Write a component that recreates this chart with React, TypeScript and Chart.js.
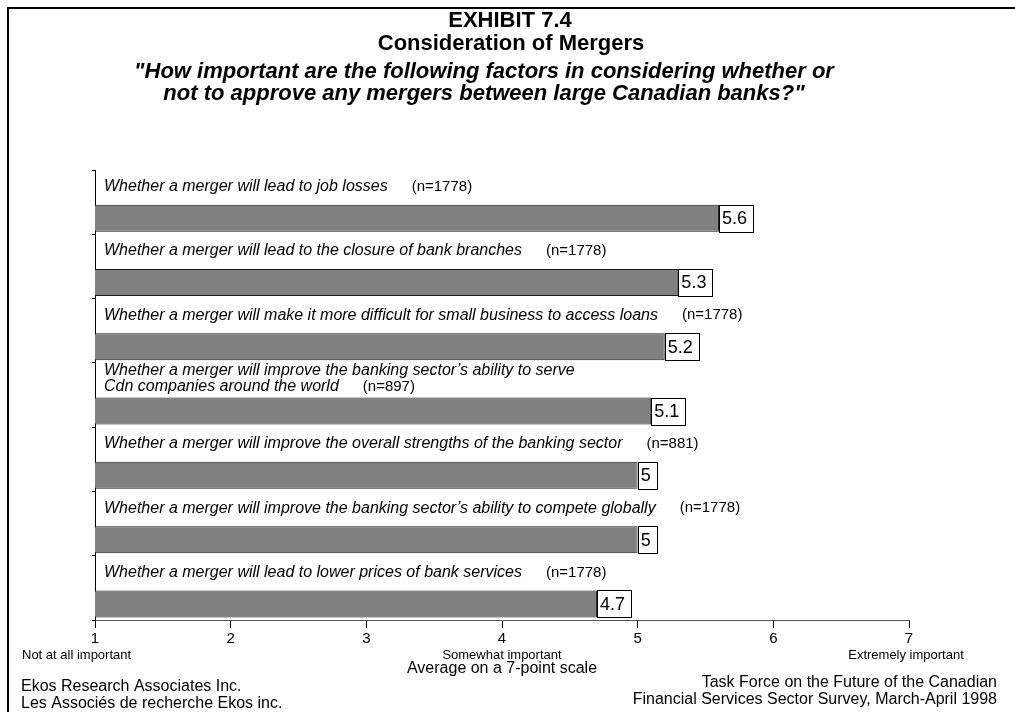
import React, { useEffect, useRef } from 'react';
import { Chart, registerables } from 'chart.js';

Chart.register(...registerables);

const FONT = "'Liberation Sans', Arial, sans-serif";

const categories: string[][] = [
  ['Whether a merger will lead to job losses'],
  ['Whether a merger will lead to the closure of bank branches'],
  ['Whether a merger will make it more difficult for small business to access loans'],
  ['Whether a merger will improve the banking sector\u2019s ability to serve', 'Cdn companies around the world'],
  ['Whether a merger will improve the overall strengths of the banking sector'],
  ['Whether a merger will improve the banking sector\u2019s ability to compete globally'],
  ['Whether a merger will lead to lower prices of bank services'],
];
const sampleSizes = ['(n=1778)', '(n=1778)', '(n=1778)', '(n=897)', '(n=881)', '(n=1778)', '(n=1778)'];
const averages = [5.6, 5.3, 5.2, 5.1, 5.0, 5.0, 4.7];
const valueLabels = ['5.6', '5.3', '5.2', '5.1', '5', '5', '4.7'];
const scaleMin = 1;
const scaleMax = 7;
const anchorValues = [1, 4, 7];
const anchorLabels = ['Not at all important', 'Somewhat important', 'Extremely important'];
const titleLines = ['EXHIBIT 7.4', 'Consideration of Mergers'];
const questionLines = [
  '"How important are the following factors in considering whether or',
  'not to approve any mergers between large Canadian banks?"',
];
const axisTitle = 'Average on a 7-point scale';
const footerLeft = ['Ekos Research Associates Inc.', 'Les Associ\u00e9s de recherche Ekos inc.'];
const footerRight = ['Task Force on the Future of the Canadian', 'Financial Services Sector Survey, March-April 1998'];

const decorPlugin = {
  id: 'decor',
  beforeDraw(chart: any) {
    const ctx = chart.ctx;
    ctx.save();
    ctx.fillStyle = '#fff';
    ctx.fillRect(0, 0, chart.width, chart.height);
    ctx.strokeStyle = '#000';
    ctx.lineWidth = 2;
    ctx.beginPath();
    ctx.moveTo(8, chart.height);
    ctx.lineTo(8, 8);
    ctx.lineTo(chart.width, 8);
    ctx.stroke();
    ctx.restore();
  },
  afterDraw(chart: any) {
    const ctx = chart.ctx;
    const xs = chart.scales.x;
    ctx.save();
    ctx.fillStyle = '#000';
    ctx.textBaseline = 'middle';

    // titles
    ctx.textAlign = 'center';
    ctx.font = `bold 22px ${FONT}`;
    ctx.fillText(titleLines[0], 510, 21);
    ctx.fillText(titleLines[1], 511, 44);
    ctx.font = `italic bold 22px ${FONT}`;
    ctx.fillText(questionLines[0], 484, 72);
    ctx.fillText(questionLines[1], 484, 94);

    // category labels and value boxes
    const meta = chart.getDatasetMeta(1);
    meta.data.forEach((bar: any, i: number) => {
      const top = bar.y - bar.height / 2;
      const bottom = bar.y + bar.height / 2;
      const lines = categories[i];
      const multi = lines.length > 1;
      ctx.textAlign = 'left';
      let lastW = 0;
      let lastY = 0;
      lines.forEach((ln, j) => {
        const y = multi ? top - 11 - (lines.length - 1 - j) * 16 : top - 18;
        ctx.font = `italic 16px ${FONT}`;
        ctx.fillText(ln, 104, y);
        if (j === lines.length - 1) {
          lastW = ctx.measureText(ln).width;
          lastY = y;
        }
      });
      ctx.font = `15px ${FONT}`;
      ctx.fillText(sampleSizes[i], 104 + lastW + 24, lastY);

      // value box
      ctx.font = `18px ${FONT}`;
      const tw = ctx.measureText(valueLabels[i]).width;
      const bx = bar.x;
      const bw = Math.round(tw + 9);
      ctx.fillStyle = '#fff';
      ctx.fillRect(bx, top, bw, bottom - top);
      ctx.strokeStyle = '#000';
      ctx.lineWidth = 1;
      ctx.strokeRect(Math.round(bx) + 0.5, Math.round(top) + 0.5, bw, Math.round(bottom - top));
      ctx.fillStyle = '#000';
      ctx.fillText(valueLabels[i], bx + 3, (top + bottom) / 2 + 1);
    });

    // anchor labels under axis
    ctx.font = `13px ${FONT}`;
    anchorValues.forEach((v, k) => {
      const px = xs.getPixelForValue(v);
      if (k === 0) {
        ctx.textAlign = 'left';
        ctx.fillText(anchorLabels[k], 22, 655);
      } else {
        ctx.textAlign = 'center';
        ctx.fillText(anchorLabels[k], k === anchorValues.length - 1 ? px - 3 : px, 655);
      }
    });

    // axis title
    ctx.textAlign = 'center';
    ctx.font = `16px ${FONT}`;
    ctx.fillText(axisTitle, (xs.left + xs.right) / 2, 669);

    // footers
    ctx.font = `16px ${FONT}`;
    ctx.textAlign = 'left';
    ctx.fillText(footerLeft[0], 21, 687);
    ctx.fillText(footerLeft[1], 21, 704);
    ctx.textAlign = 'right';
    ctx.fillText(footerRight[0], 997, 683);
    ctx.fillText(footerRight[1], 997, 700);
    ctx.restore();
  },
};

export default function App() {
  const ref = useRef<HTMLCanvasElement | null>(null);
  useEffect(() => {
    document.body.style.margin = '0';
    const canvas = ref.current;
    if (!canvas) return;
    const chart = new Chart(canvas, {
      type: 'bar',
      data: {
        labels: categories.map((c) => c.join(' ')),
        datasets: [
          {
            label: 'spacer',
            data: categories.map(() => null),
            backgroundColor: 'rgba(0,0,0,0)',
          },
          {
            label: 'Average',
            data: averages,
            backgroundColor: '#808080',
            borderColor: '#1a1a1a',
            borderWidth: 1,
          },
        ],
      },
      options: {
        indexAxis: 'y',
        responsive: false,
        animation: false,
        events: [],
        layout: { padding: { top: 170, right: 106, left: 0, bottom: 0 } },
        datasets: { bar: { categoryPercentage: 1, barPercentage: 0.84 } },
        plugins: {
          legend: { display: false },
          tooltip: { enabled: false },
          title: { display: false },
        },
        scales: {
          x: {
            type: 'linear',
            min: scaleMin,
            max: scaleMax,
            position: 'bottom',
            ticks: { stepSize: 1, color: '#000', font: { family: FONT, size: 15 }, padding: 2, maxRotation: 0 },
            grid: { drawOnChartArea: false, drawTicks: true, tickLength: 8, color: '#000' },
            border: { display: true, color: '#555', width: 1 },
            afterFit: (s: any) => {
              s.height = 92;
            },
          },
          y: {
            type: 'category',
            offset: true,
            ticks: { display: false },
            grid: { drawOnChartArea: false, offset: true, tickLength: 3, color: '#000' },
            border: { display: true, color: '#000', width: 1 },
            afterFit: (s: any) => {
              s.width = 95;
            },
          },
        },
      } as any,
      plugins: [decorPlugin],
    });
    return () => chart.destroy();
  }, []);
  return <canvas ref={ref} width={1015} height={712} style={{ display: 'block' }} />;
}
